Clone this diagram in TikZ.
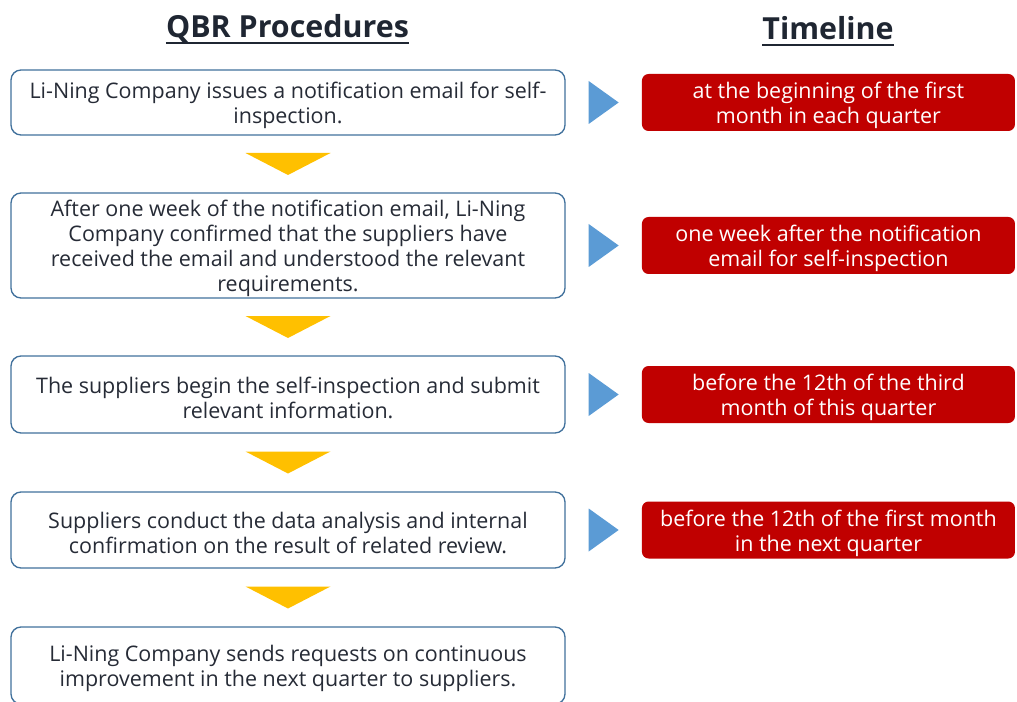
\documentclass[tikz,border=0pt]{standalone}
\usepackage{fontspec}
\setmainfont{Open Sans}
\usepackage{tikz}
\usetikzlibrary{positioning,calc}
\definecolor{headnavy}{RGB}{31,38,50}
\definecolor{bodytext}{RGB}{38,43,54}
\definecolor{boxblue}{RGB}{65,113,156}
\definecolor{timered}{RGB}{192,0,0}
\definecolor{arrowblue}{RGB}{91,155,213}
\definecolor{arrowyellow}{RGB}{255,192,0}
% a little extra room above the first line of each box
\newcommand{\firstline}{\rule{0pt}{16.8pt}}

\begin{document}
\begin{tikzpicture}[x=0.75pt,y=-0.75pt,
    heading/.style={inner sep=0pt,text=headnavy,font=\bfseries\fontsize{22.8}{27}\selectfont},
    steptext/.style={align=center,inner ysep=0pt,font=\fontsize{16.1}{18.75}\selectfont},
    procbox/.style={steptext,draw=boxblue,line width=1pt,rounded corners=7.5pt,fill=white,
        minimum width=415.5pt,text=bodytext},
    timebox/.style={steptext,fill=timered,rounded corners=5pt,minimum width=279.75pt,
        minimum height=42.75pt,text=white}]
    \useasboundingbox (0,0) rectangle (1017,702);
    % column headings
    \node[heading] (hproc) at (287.5,28.5) {QBR Procedures};
    \node[heading] (htime) at (828,28.5) {Timeline};
    \foreach \h in {hproc,htime}
        \draw[headnavy,line width=1.5pt] ([yshift=-4pt]\h.base west) -- ([yshift=-4pt]\h.base east);
    % procedure steps
    \node[procbox,minimum height=48.75pt] (p1) at (288,102.5)
        {\firstline Li-Ning Company issues a notification email for self-\\inspection.};
    \node[procbox,minimum height=78.75pt] (p2) at (288,245.5)
        {\firstline After one week of the notification email, Li-Ning\\Company confirmed that the suppliers have\\received the email and understood the relevant\\requirements.};
    \node[procbox,minimum height=57.75pt] (p3) at (288,394.5)
        {\firstline The suppliers begin the self-inspection and submit\\relevant information.};
    \node[procbox,minimum height=57pt] (p4) at (288,530)
        {\firstline Suppliers conduct the data analysis and internal\\confirmation on the result of related review.};
    \node[procbox,minimum height=57.75pt] (p5) at (288,665.5)
        {\firstline Li-Ning Company sends requests on continuous\\improvement in the next quarter to suppliers.};
    % timeline
    \node[timebox,right=57pt of p1] (t1) {\firstline at the beginning of the first\\month in each quarter};
    \node[timebox,right=57pt of p2] (t2) {\firstline one week after the notification\\email for self-inspection};
    \node[timebox,right=57pt of p3] (t3) {\firstline before the 12th of the third\\month of this quarter};
    \node[timebox,right=57pt of p4] (t4) {\firstline before the 12th of the first month\\in the next quarter};
    % arrows
    \foreach \a/\b in {p1/p2,p2/p3,p3/p4,p4/p5}
        \fill[arrowyellow] ($(\a.south)!0.5!(\b.north)$) ++(-42.5,-11) -- ++(85,0) -- ++(-42.5,22) -- cycle;
    \foreach \a/\b in {p1/t1,p2/t2,p3/t3,p4/t4}
        \fill[arrowblue] ($(\a.east)!0.5!(\b.west)$) ++(-15,-21.5) -- ++(30,21.5) -- ++(-30,21.5) -- cycle;
\end{tikzpicture}
\end{document}
